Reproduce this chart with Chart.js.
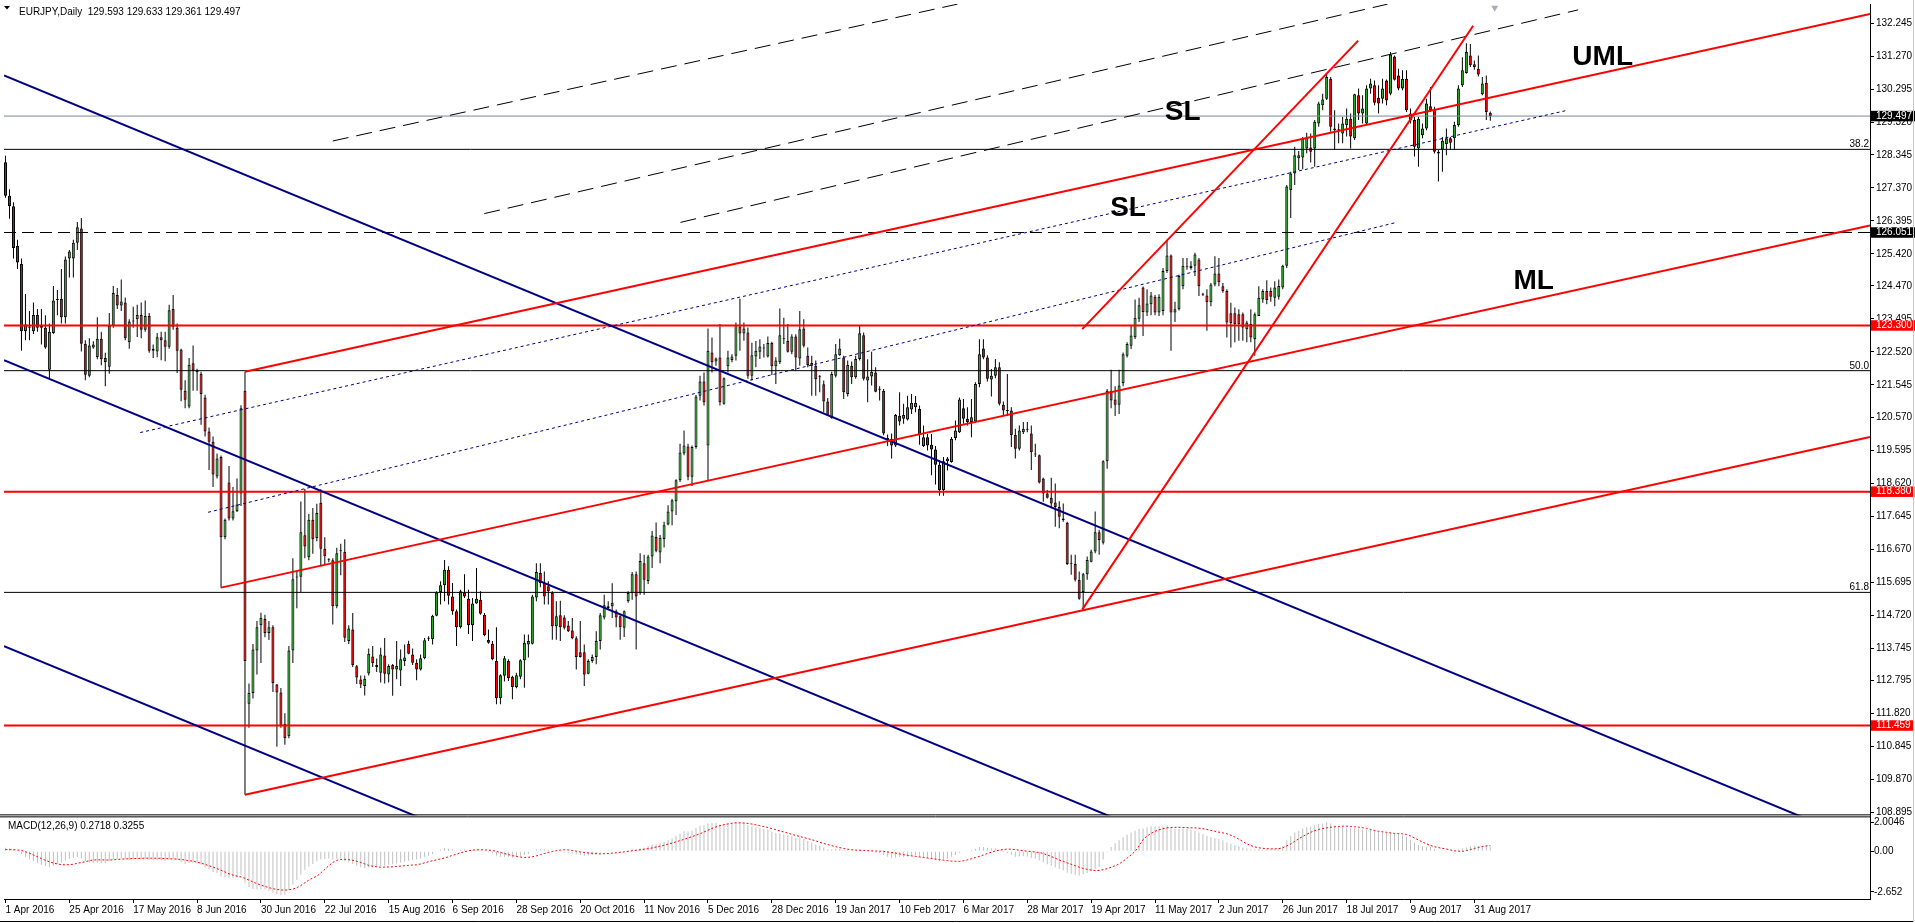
<!DOCTYPE html>
<html lang="en">
<head>
<meta charset="UTF-8">
<title>EURJPY,Daily</title>
<script src="https://cdn.jsdelivr.net/npm/chart.js@4.4.1/dist/chart.umd.min.js"></script>
<style>
  html, body { margin: 0; padding: 0; background: #fff; }
  #wrap { position: relative; width: 1915px; height: 923px; }
  canvas { display: block; }
</style>
</head>
<body>
<div id="wrap"><canvas id="chart" width="1915" height="923"></canvas></div>
<script>
// ---- date axis (one label every 16 bars) ----
const dateLabels = ['1 Apr 2016', '25 Apr 2016', '17 May 2016', '8 Jun 2016', '30 Jun 2016', '22 Jul 2016',
  '15 Aug 2016', '6 Sep 2016', '28 Sep 2016', '20 Oct 2016', '11 Nov 2016', '5 Dec 2016', '28 Dec 2016',
  '19 Jan 2017', '10 Feb 2017', '6 Mar 2017', '28 Mar 2017', '19 Apr 2017', '11 May 2017', '2 Jun 2017',
  '26 Jun 2017', '18 Jul 2017', '9 Aug 2017', '31 Aug 2017'];

// ---- daily candles, bar 0 = 1 Apr 2016 ----
const opens = [
  128.13,127.14,126.83,125.65,125.12,123.13,123.27,123.13,123.61,123.29,
  123.23,121.99,123.08,124.05,124.08,123.54,125.28,125.28,125.75,126.17,
  122.76,121.81,122.65,122.37,122.91,122.34,122.08,123.29,124.20,123.89,
  123.98,122.80,123.44,123.48,123.61,123.17,123.58,122.61,122.53,122.95,
  122.86,122.67,123.79,123.23,122.59,121.37,120.90,122.18,121.95,121.87,
  121.17,120.16,119.86,118.83,119.41,117.03,118.65,117.59,117.80,118.33,
  121.37,112.10,112.42,113.68,114.43,114.61,114.20,114.37,112.67,112.44,
  111.51,111.14,113.68,115.84,115.86,117.09,116.44,117.55,117.01,118.05,
  116.69,116.37,116.35,114.99,116.62,116.60,113.96,114.30,113.21,112.82,
  112.63,113.00,113.50,113.25,113.02,113.53,112.97,113.25,113.12,113.09,
  113.37,113.88,113.56,113.32,113.12,113.45,114.03,114.01,114.71,115.41,
  115.61,116.07,115.28,114.84,114.37,115.40,115.21,114.43,115.07,115.18,
  114.74,113.99,113.88,113.37,112.27,112.93,113.37,112.90,112.60,112.90,
  113.39,113.86,113.88,115.25,115.97,115.68,115.58,115.38,114.40,114.72,
  114.66,114.42,114.27,114.04,113.63,113.63,112.99,113.37,113.49,113.96,
  114.66,114.94,114.99,114.84,114.69,114.35,115.14,115.38,115.94,115.38,
  116.26,115.74,116.46,117.04,116.58,116.98,117.41,117.79,118.10,118.72,
  119.51,119.72,118.82,119.70,121.22,121.64,119.75,122.50,122.23,122.35,
  120.98,122.09,122.28,122.40,123.27,123.06,123.09,121.81,122.38,122.52,
  122.62,122.38,122.78,122.09,122.21,122.89,122.84,122.52,122.97,122.32,
  123.21,122.40,122.19,122.11,121.78,121.56,121.05,120.55,121.81,122.42,
  122.35,121.27,122.11,121.77,122.31,123.01,121.67,121.79,121.91,121.41,
  121.37,119.97,119.95,119.75,120.63,120.54,120.52,120.81,120.88,120.83,
  119.73,119.99,119.77,119.63,119.18,118.43,119.28,119.26,119.97,120.14,
  120.85,120.54,120.44,120.46,121.57,122.62,122.35,121.70,121.81,122.06,
  120.95,120.78,120.78,120.06,119.65,120.14,120.22,120.10,119.49,119.46,
  118.77,118.33,118.20,118.06,117.93,117.59,117.46,116.24,116.24,115.77,
  115.41,115.94,116.31,116.61,117.18,116.87,119.28,121.37,121.11,120.95,
  121.60,122.40,122.70,122.95,123.50,124.42,123.68,123.93,124.15,123.68,
  123.73,124.91,125.37,123.68,123.78,124.46,125.03,125.00,125.07,125.25,
  124.22,124.19,123.99,124.51,124.84,124.46,124.32,123.66,123.66,123.63,
  123.63,123.19,123.34,122.89,123.58,124.07,124.32,124.32,124.12,124.15,
  124.42,125.07,127.31,127.80,128.25,128.27,128.54,128.57,128.54,129.28,
  129.82,130.01,130.60,129.13,129.08,128.98,129.23,129.42,128.84,130.11,
  129.57,129.28,130.31,130.41,130.04,130.01,130.55,130.16,131.26,130.70,
  130.31,130.60,129.38,129.38,128.54,128.93,129.13,129.79,129.69,128.44,
  128.51,128.67,128.84,128.84,129.23,130.41,130.77,131.29,131.03,130.90,
  130.14,130.48,129.593];
const highs = [
  128.32,127.33,126.95,125.84,125.28,124.23,123.73,123.98,123.79,123.79,
  123.60,123.36,124.47,124.35,124.97,125.34,125.53,125.84,126.36,126.48,
  122.86,122.92,122.83,123.54,123.11,122.49,123.67,124.47,124.41,124.66,
  124.13,123.48,123.85,123.91,123.98,124.04,123.67,122.74,123.08,123.11,
  123.11,123.91,124.20,123.36,122.61,121.68,122.34,122.71,122.02,121.93,
  121.25,120.28,120.01,119.51,119.45,117.59,119.14,118.52,118.77,120.94,
  121.93,112.70,113.87,114.55,114.80,114.74,114.55,114.43,112.69,112.57,
  111.82,113.81,116.41,116.03,118.09,118.46,117.72,117.90,118.02,118.45,
  117.03,116.41,116.41,116.72,116.84,116.97,114.43,114.79,113.25,112.94,
  112.94,113.74,113.81,113.44,113.76,114.05,113.27,113.28,113.96,113.71,
  113.86,113.97,113.74,113.42,113.56,114.05,114.10,114.74,115.43,115.73,
  116.36,116.17,115.68,114.89,115.48,115.94,115.48,115.23,116.12,115.43,
  114.79,114.30,113.96,114.37,112.98,113.52,113.42,112.93,113.02,113.42,
  114.15,114.15,115.33,116.26,116.26,116.02,115.73,115.43,115.14,115.15,
  114.72,114.55,114.64,114.10,114.55,113.86,113.42,113.56,114.25,114.79,
  115.33,115.14,115.67,114.89,114.72,114.86,115.43,116.00,116.02,116.56,
  116.51,116.51,117.22,117.47,117.10,117.49,117.98,118.16,118.75,119.80,
  120.19,119.80,119.75,121.24,121.81,121.91,123.21,122.94,122.35,123.34,
  121.76,122.55,122.45,123.39,124.09,123.39,123.24,122.79,122.84,122.89,
  122.75,122.97,122.82,122.36,123.80,123.53,123.34,123.04,123.04,123.73,
  123.48,122.65,122.40,122.26,121.83,121.67,121.15,121.93,122.75,122.91,
  122.40,122.26,122.23,122.40,123.31,123.09,122.30,122.52,122.06,121.50,
  121.42,120.07,120.10,120.68,121.32,120.98,121.22,121.27,121.21,120.93,
  120.34,120.09,120.09,119.73,119.31,119.41,119.41,120.00,120.49,121.17,
  121.12,120.88,121.12,121.62,122.89,122.89,122.42,122.01,122.31,122.21,
  121.05,121.86,120.88,120.24,120.34,120.44,120.44,120.34,119.80,119.48,
  118.79,118.43,118.79,118.62,118.10,118.03,117.49,116.51,116.51,116.02,
  115.97,116.46,116.66,117.79,117.25,119.31,121.42,121.99,121.50,121.99,
  122.50,122.80,123.30,124.07,124.12,124.45,124.37,124.29,124.20,124.22,
  125.00,125.84,125.40,124.00,124.80,125.30,125.30,125.20,125.45,125.30,
  124.27,124.37,124.56,125.35,125.30,124.56,124.37,123.97,123.83,123.78,
  123.68,123.44,123.78,123.68,124.46,124.37,124.64,124.42,124.61,124.66,
  125.10,127.46,127.85,128.59,128.46,128.88,129.00,128.98,129.38,129.92,
  130.16,130.75,130.65,129.67,129.28,129.47,129.72,129.57,130.16,130.31,
  130.11,130.41,130.60,130.55,130.41,130.60,130.58,131.39,131.29,130.90,
  130.85,130.85,129.72,129.47,129.47,129.28,130.01,130.36,129.77,128.49,
  128.88,129.13,128.88,129.33,130.41,131.24,131.65,131.63,131.14,131.29,
  130.65,130.70,129.633];
const lows = [
  127.08,126.46,125.28,124.97,122.55,122.86,122.86,123.05,123.11,122.74,
  122.61,121.74,123.05,123.60,123.36,123.36,124.72,124.72,125.53,122.53,
  121.68,121.77,122.61,122.30,122.12,121.50,121.87,123.23,123.79,123.73,
  122.86,122.61,123.23,122.96,122.92,123.11,122.49,122.34,122.36,122.27,
  122.24,122.61,123.17,121.89,121.06,120.85,120.85,121.37,121.37,120.36,
  120.01,119.02,118.52,118.77,115.54,116.97,117.53,117.53,117.78,117.96,
  109.41,111.39,112.26,112.97,113.31,114.07,113.99,112.45,110.83,111.39,
  110.89,111.08,113.31,114.93,115.41,116.41,116.35,116.54,116.91,116.17,
  116.22,116.29,114.45,114.93,115.91,113.93,113.87,113.19,112.69,112.57,
  112.35,112.94,113.19,113.04,112.73,112.70,112.73,112.34,112.83,112.63,
  113.22,113.57,113.25,112.80,113.09,113.42,113.96,113.86,114.69,115.04,
  115.14,115.04,114.74,113.81,114.33,115.23,114.17,113.96,115.06,114.74,
  114.10,113.88,113.39,112.09,112.09,112.76,112.78,112.24,112.56,112.83,
  112.58,113.47,113.86,115.14,115.55,115.04,115.04,114.00,114.00,113.96,
  114.30,114.23,114.01,113.12,113.47,112.63,112.98,113.32,113.27,113.71,
  114.60,114.89,114.64,114.37,114.00,114.08,115.09,115.18,113.71,115.33,
  115.33,115.65,116.12,116.59,116.26,116.73,117.39,117.39,117.69,118.67,
  119.46,118.72,118.55,119.65,121.08,120.93,118.69,121.91,122.11,120.93,
  120.95,121.91,122.21,122.26,122.55,122.85,121.72,121.67,122.06,122.31,
  122.35,122.35,121.83,121.57,122.16,122.75,122.50,122.45,121.96,122.11,
  122.65,122.06,121.22,121.22,121.32,120.73,120.62,120.54,121.76,122.40,
  121.12,121.20,121.57,121.72,122.26,121.67,121.03,121.52,121.32,121.08,
  120.05,119.73,119.36,119.70,120.34,120.39,120.49,120.68,120.73,119.77,
  119.70,119.60,118.87,118.59,118.26,118.26,119.01,119.24,119.90,120.12,
  120.39,120.34,119.99,120.42,121.47,122.30,121.64,121.20,121.74,120.93,
  120.65,120.62,119.70,119.36,119.60,120.09,120.14,119.02,119.41,118.62,
  118.08,118.18,117.89,117.34,117.30,117.49,116.21,115.92,115.72,115.18,
  114.89,115.77,116.29,116.56,116.51,116.82,119.06,120.85,120.62,120.68,
  121.50,122.35,122.60,122.90,123.40,122.99,123.58,123.60,123.60,123.58,
  123.60,124.85,122.55,123.40,123.74,124.37,124.95,124.95,124.76,124.17,
  124.17,123.14,123.87,124.46,124.46,124.27,122.94,122.65,122.80,122.85,
  122.85,122.80,122.80,122.40,123.58,123.97,123.93,124.00,123.87,124.07,
  124.37,125.00,126.48,127.46,127.90,127.92,128.40,128.12,128.00,129.18,
  129.67,129.97,129.03,128.49,128.69,128.69,128.89,128.54,128.79,129.38,
  129.28,129.23,130.16,129.82,129.57,129.87,129.82,130.11,130.55,130.26,
  130.26,129.62,129.28,128.30,128.00,128.84,129.08,129.62,128.39,127.56,
  127.85,128.34,128.49,128.49,129.18,130.36,130.75,130.95,130.87,130.67,
  130.11,129.38,129.361];
const closes = [
  127.14,126.83,125.59,125.16,123.13,123.33,123.23,123.61,123.23,123.23,
  122.65,123.11,124.04,124.08,123.54,125.25,125.49,125.75,126.21,122.76,
  121.84,122.71,122.74,122.91,122.30,122.22,123.29,124.26,123.89,124.01,
  122.92,123.42,123.42,123.61,123.17,123.58,122.55,122.55,122.95,122.86,
  122.67,123.75,123.26,122.55,121.40,121.10,122.14,121.97,121.92,121.27,
  120.16,119.86,118.89,119.36,117.03,117.55,117.59,117.80,118.00,120.85,
  113.37,112.42,113.71,114.37,114.65,114.20,114.37,112.72,112.44,111.45,
  111.08,113.68,115.79,115.86,117.18,116.76,117.55,116.97,117.75,116.69,
  116.47,116.35,114.99,116.56,116.64,114.06,114.33,113.25,112.88,112.67,
  112.84,113.58,113.31,113.19,113.56,112.99,113.22,113.12,113.22,113.42,
  113.47,113.58,113.32,113.12,113.45,113.98,114.05,114.71,115.40,115.61,
  116.07,115.30,114.84,114.37,115.43,115.28,114.43,115.07,115.21,114.77,
  114.13,113.91,113.42,112.27,112.95,113.45,112.86,112.60,112.95,113.39,
  113.91,113.96,115.28,116.00,115.68,115.28,115.43,114.40,114.69,114.37,
  114.35,114.25,114.04,113.49,113.49,112.97,113.37,113.49,113.96,114.72,
  115.02,114.99,115.09,114.66,114.37,114.84,115.38,115.94,115.28,116.33,
  115.77,116.46,117.08,116.63,117.02,117.39,117.79,118.13,118.72,119.54,
  119.75,118.82,119.70,121.20,121.64,121.03,122.55,122.21,122.32,121.03,
  121.74,122.35,122.38,123.31,123.06,123.21,121.81,122.42,122.55,122.68,
  122.63,122.78,122.09,122.26,123.01,122.90,122.52,122.97,122.35,123.19,
  122.70,122.13,122.11,121.71,121.77,121.05,120.63,121.86,122.45,122.62,
  121.32,122.13,121.77,122.31,123.07,121.72,121.79,121.93,121.34,121.40,
  120.10,119.90,119.75,120.65,120.46,120.65,120.88,121.01,121.01,120.05,
  119.99,119.75,119.63,119.18,118.43,119.28,119.36,119.95,120.19,121.11,
  120.54,120.44,120.58,121.57,122.45,122.35,121.72,121.81,122.06,120.98,
  120.78,120.77,120.06,119.65,120.19,120.24,120.21,119.55,119.48,118.65,
  118.33,118.20,118.03,117.93,117.64,117.54,116.24,116.23,115.77,115.21,
  115.94,116.36,116.61,117.18,116.95,119.28,121.37,121.08,120.95,121.52,
  122.45,122.75,123.00,123.53,123.90,123.70,123.95,124.19,123.68,124.15,
  124.91,125.37,123.68,123.78,124.76,125.07,125.02,125.07,125.40,124.46,
  124.21,123.99,124.51,124.84,124.58,124.32,123.39,123.37,123.34,123.34,
  123.24,123.39,122.94,123.63,124.12,124.32,124.05,124.15,124.42,124.47,
  125.07,127.41,127.80,128.34,128.34,128.83,128.86,128.44,129.33,129.87,
  129.99,130.65,129.18,129.08,129.09,129.28,129.42,128.89,130.14,129.57,
  129.72,130.31,130.46,129.89,129.87,130.31,129.96,131.32,130.57,130.31,
  130.60,129.67,129.57,128.59,129.42,129.13,129.87,129.67,128.44,128.39,
  128.77,128.84,128.71,129.23,130.31,130.85,131.39,131.00,130.95,130.73,
  130.46,129.62,129.497];

// ---- MACD(12,26,9) pane: main (histogram) and signal ----
const macdMain = [
  0.20,0.18,0.12,0.02,-0.15,-0.30,-0.45,-0.55,-0.65,-0.75,
  -0.82,-0.88,-0.80,-0.70,-0.62,-0.50,-0.42,-0.35,-0.30,-0.40,
  -0.55,-0.62,-0.65,-0.64,-0.66,-0.65,-0.55,-0.45,-0.42,-0.40,
  -0.45,-0.46,-0.45,-0.42,-0.42,-0.40,-0.45,-0.50,-0.50,-0.50,
  -0.52,-0.45,-0.42,-0.48,-0.60,-0.70,-0.65,-0.65,-0.68,-0.75,
  -0.88,-1.00,-1.15,-1.20,-1.40,-1.45,-1.50,-1.48,-1.45,-1.30,
  -1.75,-2.00,-2.10,-2.12,-2.10,-2.12,-2.20,-2.30,-2.40,-2.45,
  -2.40,-2.15,-1.85,-1.60,-1.30,-1.05,-0.85,-0.70,-0.55,-0.45,
  -0.42,-0.40,-0.45,-0.42,-0.40,-0.55,-0.60,-0.70,-0.80,-0.88,
  -0.92,-0.90,-0.88,-0.86,-0.82,-0.80,-0.75,-0.72,-0.68,-0.62,
  -0.58,-0.52,-0.48,-0.45,-0.40,-0.32,-0.25,-0.15,-0.02,0.10,
  0.18,0.16,0.12,0.05,0.08,0.10,0.05,0.06,0.08,0.05,
  0.00,-0.05,-0.12,-0.25,-0.30,-0.30,-0.32,-0.35,-0.33,-0.28,
  -0.20,-0.15,-0.02,0.10,0.12,0.12,0.10,0.02,0.00,-0.05,
  -0.08,-0.10,-0.12,-0.18,-0.20,-0.25,-0.22,-0.20,-0.15,-0.08,
  -0.02,0.02,0.05,0.02,-0.02,0.00,0.06,0.15,0.10,0.18,
  0.20,0.28,0.38,0.40,0.45,0.52,0.62,0.72,0.85,1.00,
  1.12,1.10,1.15,1.30,1.42,1.45,1.55,1.58,1.60,1.50,
  1.48,1.52,1.55,1.62,1.62,1.60,1.45,1.40,1.35,1.30,
  1.25,1.22,1.10,1.02,1.00,0.95,0.88,0.84,0.75,0.76,
  0.70,0.58,0.48,0.38,0.30,0.20,0.10,0.10,0.14,0.15,
  0.08,0.08,0.05,0.06,0.12,0.02,-0.02,-0.04,-0.08,-0.10,
  -0.20,-0.30,-0.38,-0.35,-0.32,-0.30,-0.28,-0.25,-0.22,-0.30,
  -0.35,-0.38,-0.42,-0.48,-0.55,-0.45,-0.40,-0.30,-0.20,-0.08,
  0.00,0.05,0.08,0.15,0.25,0.25,0.20,0.18,0.18,0.05,
  -0.05,-0.10,-0.20,-0.30,-0.28,-0.26,-0.28,-0.35,-0.40,-0.50,
  -0.62,-0.72,-0.80,-0.90,-0.98,-1.05,-1.20,-1.25,-1.30,-1.35,
  -1.28,-1.20,-1.10,-0.95,-0.85,-0.45,-0.05,0.25,0.45,0.62,
  0.78,0.92,1.05,1.15,1.25,1.28,1.35,1.40,1.40,1.38,
  1.42,1.45,1.30,1.25,1.25,1.28,1.25,1.20,1.15,1.05,
  0.95,0.85,0.80,0.75,0.70,0.62,0.50,0.42,0.35,0.28,
  0.22,0.16,0.10,0.10,0.12,0.12,0.10,0.10,0.12,0.18,
  0.30,0.60,0.85,1.05,1.15,1.28,1.35,1.38,1.45,1.52,
  1.55,1.62,1.55,1.45,1.40,1.35,1.32,1.28,1.30,1.28,
  1.22,1.22,1.20,1.15,1.10,1.05,1.02,1.05,1.02,0.95,
  0.90,0.80,0.65,0.50,0.35,0.28,0.25,0.25,0.15,0.02,
  0.00,-0.01,0.00,0.02,0.10,0.18,0.22,0.30,0.32,0.30,
  0.28,0.35,0.2718];
const macdSignal = [
  0.10,0.10,0.09,0.08,0.05,-0.02,-0.10,-0.20,-0.30,-0.40,
  -0.50,-0.58,-0.65,-0.70,-0.74,-0.75,-0.74,-0.72,-0.66,-0.62,
  -0.58,-0.52,-0.48,-0.47,-0.47,-0.48,-0.48,-0.47,-0.45,-0.43,
  -0.42,-0.41,-0.40,-0.40,-0.39,-0.38,-0.38,-0.38,-0.38,-0.39,
  -0.40,-0.41,-0.42,-0.43,-0.45,-0.48,-0.52,-0.55,-0.60,-0.66,
  -0.72,-0.80,-0.88,-0.96,-1.05,-1.15,-1.25,-1.32,-1.38,-1.42,
  -1.50,-1.60,-1.70,-1.80,-1.88,-1.95,-2.02,-2.08,-2.12,-2.15,
  -2.16,-2.14,-2.10,-2.02,-1.90,-1.75,-1.60,-1.48,-1.38,-1.20,
  -1.00,-0.80,-0.62,-0.50,-0.45,-0.44,-0.46,-0.50,-0.55,-0.62,
  -0.70,-0.78,-0.83,-0.86,-0.88,-0.88,-0.87,-0.86,-0.84,-0.82,
  -0.80,-0.78,-0.76,-0.75,-0.70,-0.64,-0.58,-0.52,-0.47,-0.42,
  -0.37,-0.30,-0.22,-0.15,-0.08,-0.02,0.03,0.07,0.09,0.09,
  0.08,0.07,0.05,0.00,-0.06,-0.12,-0.18,-0.24,-0.28,-0.32,
  -0.34,-0.33,-0.30,-0.25,-0.18,-0.12,-0.06,-0.01,0.04,0.07,
  0.09,0.08,0.05,0.01,-0.03,-0.06,-0.09,-0.11,-0.13,-0.14,
  -0.13,-0.12,-0.10,-0.08,-0.05,-0.03,0.00,0.03,0.06,0.09,
  0.12,0.15,0.19,0.24,0.29,0.34,0.40,0.46,0.53,0.60,
  0.67,0.75,0.82,0.90,0.98,1.08,1.18,1.28,1.36,1.43,
  1.49,1.53,1.57,1.59,1.59,1.58,1.56,1.52,1.48,1.43,
  1.38,1.33,1.27,1.21,1.14,1.08,1.02,0.95,0.89,0.83,
  0.77,0.71,0.65,0.58,0.51,0.44,0.38,0.32,0.26,0.21,
  0.16,0.12,0.09,0.07,0.06,0.05,0.04,0.03,0.02,0.01,
  0.00,-0.03,-0.06,-0.10,-0.14,-0.18,-0.22,-0.25,-0.28,-0.31,
  -0.34,-0.37,-0.40,-0.43,-0.46,-0.49,-0.52,-0.54,-0.55,-0.56,
  -0.52,-0.47,-0.41,-0.34,-0.28,-0.20,-0.12,-0.05,0.02,0.07,
  0.10,0.13,0.12,0.10,0.07,0.04,0.01,-0.01,-0.04,-0.06,
  -0.12,-0.20,-0.28,-0.38,-0.48,-0.56,-0.64,-0.72,-0.80,-0.88,
  -0.95,-1.00,-1.04,-1.07,-1.06,-1.02,-0.96,-0.88,-0.80,-0.70,
  -0.55,-0.38,-0.20,0.00,0.30,0.65,0.85,1.00,1.12,1.20,
  1.26,1.31,1.33,1.34,1.34,1.33,1.32,1.31,1.31,1.29,
  1.26,1.22,1.17,1.12,1.07,1.03,0.98,0.90,0.80,0.68,
  0.55,0.42,0.32,0.25,0.20,0.17,0.15,0.14,0.14,0.15,
  0.20,0.30,0.42,0.56,0.70,0.83,0.95,1.06,1.15,1.22,
  1.27,1.31,1.34,1.37,1.39,1.40,1.40,1.39,1.37,1.35,
  1.32,1.28,1.22,1.16,1.12,1.09,1.06,1.03,1.00,0.99,
  0.98,0.94,0.86,0.75,0.63,0.52,0.42,0.33,0.26,0.21,
  0.17,0.13,0.08,0.03,0.01,0.00,0.04,0.10,0.16,0.22,
  0.27,0.30,0.3255];

// ---- axis ticks ----
const priceTicks = [132.245, 131.270, 130.295, 129.320, 128.345, 127.370, 126.395, 125.420, 124.470,
  123.495, 122.520, 121.545, 120.570, 119.595, 118.620, 117.645, 116.670, 115.695, 114.720, 113.745,
  112.795, 111.820, 110.845, 109.870, 108.895];
const priceMarks = [129.497, 126.051, 123.300, 118.380, 111.459];
const priceMarkColors = ['#000000', '#000000', '#ff0000', '#ff0000', '#ff0000'];
const macdTickPos = [1.61, 0, -2.26];
const macdTickText = ['2.0046', '0.00', '-2.652'];

// ---- horizontal levels ----
const bidLevel = 129.497;
const dashedLevel = 126.051;
const redLevels = [123.300, 118.380, 111.459];
const fibLevels = [128.512, 121.962, 115.400];
const fibNames = ['38.2', '50.0', '61.8'];

// ---- drawn objects: [bar, price] endpoints ----
const redLines = [
  [[54, 115.54], [467.125, 126.26]],    // ML
  [[60, 121.93], [467.125, 132.52]],    // UML
  [[60, 109.41], [467.125, 120.00]],    // lower line
  [[269.75, 123.19], [338.9, 131.73]],  // SL
  [[269.75, 114.89], [367.7, 132.17]]   // SL steep
];
const navyLines = [
  [[-0.375, 130.70], [452, 108.66]],
  [[-0.375, 122.27], [279, 108.66]],
  [[-0.375, 113.81], [105, 108.67]]
];
const dottedLines = [
  [[33.75, 120.13], [391.4, 129.67]],
  [[50.75, 117.77], [348.5, 126.35]]
];
const dashedLines = [
  [[82, 128.76], [238.5, 132.81]],
  [[119.95, 126.61], [346.25, 132.81]],
  [[169.1, 126.35], [394, 132.64]]
];
const noteTexts = ['SL', 'SL', 'UML', 'ML'];
const noteX = [290.45, 276.75, 392.55, 377.8];
const noteY = [129.375, 126.53, 131.02, 124.37];

const xMin = -0.375, xMax = 467.125;
const priceMin = 108.80, priceMax = 132.814;
const macdMin = -2.652, macdMax = 2.0046;

const uiFont = "'Liberation Sans', Arial, sans-serif";
const bull = '#2db42d', bear = '#ff0000';
Chart.defaults.font.family = uiFont;
Chart.defaults.font.size = 10;
Chart.defaults.color = '#000';

const bars = closes.map((c, i) => i);

function seg(pts, color, width, dash) {
  return {
    type: 'line', yAxisID: 'y', order: 0, clip: 0,
    data: pts.map(([x, y]) => ({x, y})),
    borderColor: color, borderWidth: width, borderDash: dash || [],
    pointRadius: 0, tension: 0, fill: false
  };
}
function level(v, color, width, dash) {
  return seg([[xMin, v], [xMax, v]], color, width, dash);
}

const datasets = [];
redLines.forEach(p => datasets.push(seg(p, '#ff0000', 2)));
navyLines.forEach(p => datasets.push(seg(p, '#000080', 2)));
dottedLines.forEach(p => datasets.push(seg(p, '#000080', 1, [3, 3])));
dashedLines.forEach(p => datasets.push(seg(p, '#000000', 1, [16, 8])));
redLevels.forEach(v => datasets.push(level(v, '#ff0000', 2)));
fibLevels.forEach(v => datasets.push(level(v, '#000000', 1)));
datasets.push(level(dashedLevel, '#000000', 1, [12, 6]));
datasets.push(level(bidLevel, '#778899', 1));

// candle bodies and wicks as floating bars
datasets.push({
  type: 'bar', yAxisID: 'y', order: 1, grouped: false,
  data: bars.map(i => ({x: i, y: [opens[i], closes[i]]})),
  backgroundColor: bars.map(i => closes[i] >= opens[i] ? bull : bear),
  borderColor: '#000', borderWidth: 1, borderSkipped: false,
  barThickness: 3, minBarLength: 1, inflateAmount: 0
});
datasets.push({
  type: 'bar', yAxisID: 'y', order: 2, grouped: false,
  data: bars.map(i => ({x: i, y: [lows[i], highs[i]]})),
  backgroundColor: '#000', borderWidth: 0, barThickness: 1, inflateAmount: 0
});
// MACD
datasets.push({
  type: 'bar', yAxisID: 'macd', order: 3, grouped: false,
  data: bars.map(i => ({x: i, y: macdMain[i]})),
  backgroundColor: '#c0c0c0', borderWidth: 0, barThickness: 1, inflateAmount: 0
});
datasets.push({
  type: 'line', yAxisID: 'macd', order: 0, clip: 0,
  data: bars.map(i => ({x: i, y: macdSignal[i]})),
  borderColor: '#ff0000', borderWidth: 1, borderDash: [2, 2],
  pointRadius: 0, tension: 0, fill: false
});
// grey marker at the top
datasets.push({
  type: 'line', yAxisID: 'y', order: 0, clip: false, showLine: false,
  data: [{x: 373.1, y: 132.70}],
  pointStyle: 'triangle', rotation: 180, pointRadius: 4,
  pointBackgroundColor: '#a9acbc', pointBorderWidth: 0
});

const overlay = {
  id: 'overlay',
  afterDraw(chart) {
    const {ctx, scales: {x, y, macd}} = chart;
    ctx.save();
    // pane separators
    ctx.strokeStyle = '#000';
    ctx.lineWidth = 1;
    ctx.beginPath();
    ctx.moveTo(0, y.bottom - 0.5); ctx.lineTo(x.right + 1, y.bottom - 0.5);
    ctx.moveTo(0, macd.top + 1.5); ctx.lineTo(x.right + 1, macd.top + 1.5);
    ctx.moveTo(0, chart.height - 1.5); ctx.lineTo(chart.width - 2, chart.height - 1.5);
    ctx.stroke();
    ctx.strokeStyle = '#c8c8c8';
    ctx.beginPath();
    ctx.moveTo(chart.width - 1.5, 0); ctx.lineTo(chart.width - 1.5, chart.height - 1);
    ctx.stroke();

    // big notes
    ctx.fillStyle = '#000';
    ctx.textAlign = 'left';
    ctx.textBaseline = 'alphabetic';
    ctx.font = "bold 28px 'Liberation Sans', Arial, sans-serif";
    noteTexts.forEach((t, k) => ctx.fillText(t, x.getPixelForValue(noteX[k]), y.getPixelForValue(noteY[k])));

    // fibo level names
    ctx.font = '10px ' + uiFont;
    ctx.textAlign = 'right';
    fibLevels.forEach((v, k) => ctx.fillText(fibNames[k], x.right - 1, y.getPixelForValue(v) - 2));

    // header
    ctx.textAlign = 'left';
    ctx.beginPath();
    ctx.moveTo(4, 6); ctx.lineTo(10, 6); ctx.lineTo(7, 9.5); ctx.closePath();
    ctx.fill();
    ctx.fillText('EURJPY,Daily  129.593 129.633 129.361 129.497', x.left + 15, y.top + 11);
    ctx.fillText('MACD(12,26,9) 0.2718 0.3255', x.left + 4, macd.top + 14);
    ctx.restore();
  }
};

new Chart(document.getElementById('chart'), {
  type: 'bar',
  data: {datasets},
  plugins: [overlay],
  options: {
    responsive: false,
    animation: false,
    events: [],
    layout: {padding: 0},
    plugins: {legend: {display: false}, tooltip: {enabled: false}},
    scales: {
      x: {
        type: 'linear', position: 'bottom', min: xMin, max: xMax, offset: false, bounds: 'data',
        border: {display: true, color: '#000'},
        grid: {drawOnChartArea: false, offset: false, tickLength: 4, tickColor: '#000'},
        afterBuildTicks: s => { s.ticks = dateLabels.map((_, k) => ({value: k * 16})); },
        afterFit: s => { s.height = 24; s.paddingLeft = 0; s.paddingRight = 0; },
        ticks: {autoSkip: false, maxRotation: 0, minRotation: 0, align: 'start', padding: 1,
          callback: (v, i) => dateLabels[i]}
      },
      y: {
        type: 'linear', axis: 'y', position: 'right', stack: 'pane', stackWeight: 815, weight: 0,
        min: priceMin, max: priceMax, bounds: 'data',
        border: {display: true, color: '#000'},
        grid: {drawOnChartArea: false, tickLength: 4,
          tickColor: c => c.index >= priceTicks.length ? 'rgba(0,0,0,0)' : '#000'},
        afterBuildTicks: s => { s.ticks = priceTicks.concat(priceMarks).map(v => ({value: v})); },
        afterFit: s => { s.width = 45; s.paddingTop = 0; s.paddingBottom = 0; },
        ticks: {
          autoSkip: false, padding: 2, font: {size: 10, lineHeight: 1.05},
          color: c => c.index >= priceTicks.length ? '#fff' : '#000',
          showLabelBackdrop: c => c.index >= priceTicks.length,
          backdropColor: c => priceMarkColors[c.index - priceTicks.length] || '#fff',
          backdropPadding: {top: 0, bottom: 0, left: 5, right: 3},
          callback: v => v.toFixed(3)
        }
      },
      macd: {
        type: 'linear', axis: 'y', position: 'right', stack: 'pane', stackWeight: 84, weight: 1,
        min: macdMin, max: macdMax, bounds: 'data',
        border: {display: true, color: '#000'},
        grid: {drawOnChartArea: false, tickLength: 4, tickColor: '#000'},
        afterBuildTicks: s => { s.ticks = macdTickPos.map(v => ({value: v})); },
        afterFit: s => { s.width = 45; s.paddingTop = 0; s.paddingBottom = 0; },
        ticks: {autoSkip: false, padding: 0, font: {size: 10, lineHeight: 1},
          callback: (v, i) => macdTickText[i]}
      }
    }
  }
});
</script>
</body>
</html>
